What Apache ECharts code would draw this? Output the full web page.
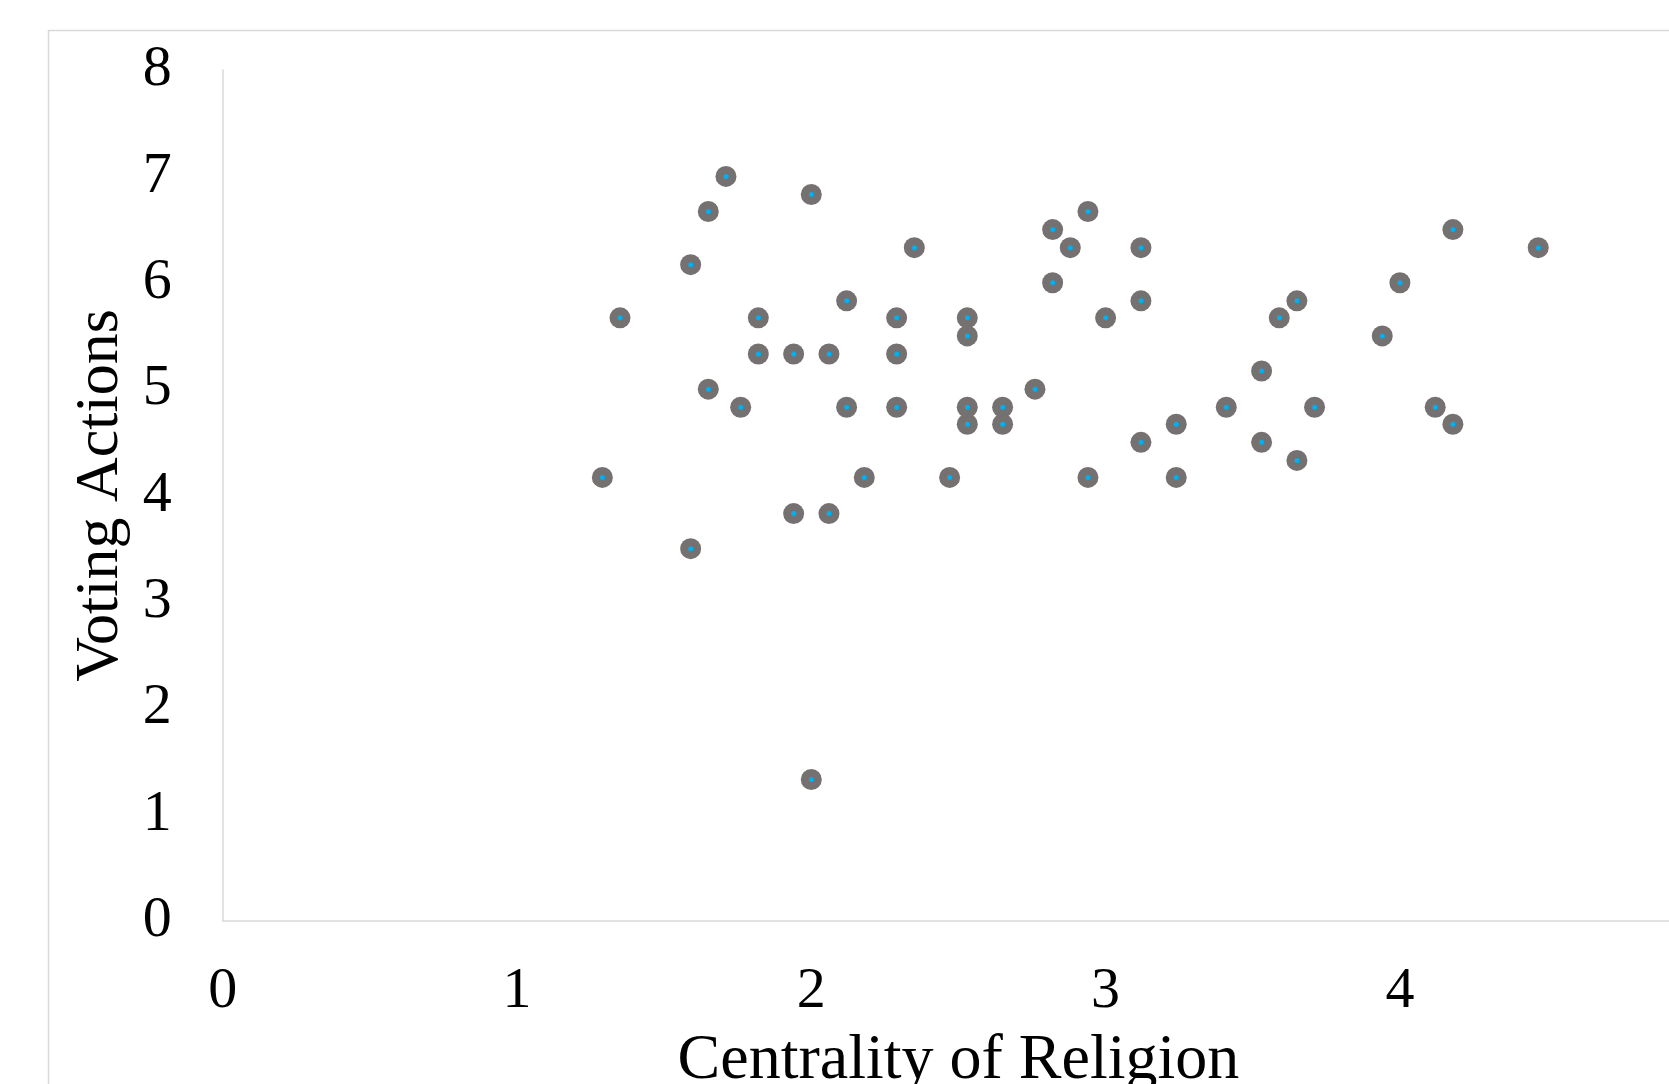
<!DOCTYPE html>
<html>
<head>
<meta charset="utf-8">
<script src="https://cdn.jsdelivr.net/npm/echarts@6/dist/echarts.min.js"></script>
<style>
html,body{margin:0;padding:0;background:#fff;}
#chart{width:1669px;height:1084px;}
</style>
</head>
<body>
<div id="chart"></div>
<script>
const xTitle = 'Centrality of Religion';
const yTitle = 'Voting Actions';
const xValues = [1.29,1.35,1.59,1.59,1.65,1.65,1.71,1.76,1.82,1.82,1.94,1.94,2.0,2.0,2.06,2.06,2.12,2.12,2.18,2.29,2.29,2.29,2.35,2.47,2.53,2.53,2.53,2.53,2.65,2.65,2.76,2.82,2.82,2.88,2.94,2.94,3.0,3.12,3.12,3.12,3.24,3.24,3.41,3.53,3.53,3.59,3.65,3.65,3.71,3.94,4.0,4.12,4.18,4.18,4.47];
const yValues = [4.17,5.67,6.17,3.5,6.67,5.0,7.0,4.83,5.67,5.33,5.33,3.83,6.83,1.33,5.33,3.83,5.83,4.83,4.17,5.67,5.33,4.83,6.33,4.17,5.67,5.5,4.83,4.67,4.83,4.67,5.0,6.5,6.0,6.33,6.67,4.17,5.67,6.33,5.83,4.5,4.67,4.17,4.83,5.17,4.5,5.67,5.83,4.33,4.83,5.5,6.0,4.83,6.5,4.67,6.33];

const points = xValues.map((x, i) => [x, yValues[i]]);

const chart = echarts.init(document.getElementById('chart'), null, {renderer: 'canvas'});
const font = 'Liberation Serif';
chart.setOption({
  animation: false,
  backgroundColor: '#ffffff',
  graphic: [{
    type: 'rect',
    shape: {x: 48.5, y: 30.5, width: 3000, height: 3000},
    style: {fill: 'none', stroke: '#d9d9d9', lineWidth: 1.5},
    z: -10
  }],
  grid: {left: 222.7, top: 70, width: 1471.5, height: 851, containLabel: false, outerBoundsMode: 'none'},
  xAxis: {
    type: 'value', min: 0, max: 5, interval: 1,
    name: xTitle, nameLocation: 'middle', nameGap: 108,
    nameTextStyle: {fontFamily: font, fontSize: 64, color: '#000'},
    axisLine: {show: true, lineStyle: {color: '#d9d9d9', width: 1.5}},
    axisTick: {show: false},
    splitLine: {show: false},
    axisLabel: {fontFamily: font, fontSize: 58, color: '#000', margin: 42}
  },
  yAxis: {
    type: 'value', min: 0, max: 8, interval: 1,
    name: yTitle, nameLocation: 'middle', nameGap: 80,
    nameTextStyle: {fontFamily: font, fontSize: 62, color: '#000'},
    axisLine: {show: true, lineStyle: {color: '#d9d9d9', width: 1.5}},
    axisTick: {show: false},
    splitLine: {show: false},
    axisLabel: {fontFamily: font, fontSize: 58, color: '#000', margin: 51}
  },
  series: [{
    type: 'scatter',
    data: points,
    symbol: 'circle',
    symbolSize: 21,
    itemStyle: {color: '#767171', opacity: 1},
    z: 2
  }, {
    type: 'scatter',
    data: points,
    symbol: 'circle',
    symbolSize: 5,
    itemStyle: {color: '#00b0f0', opacity: 1},
    z: 3
  }]
});
</script>
</body>
</html>
